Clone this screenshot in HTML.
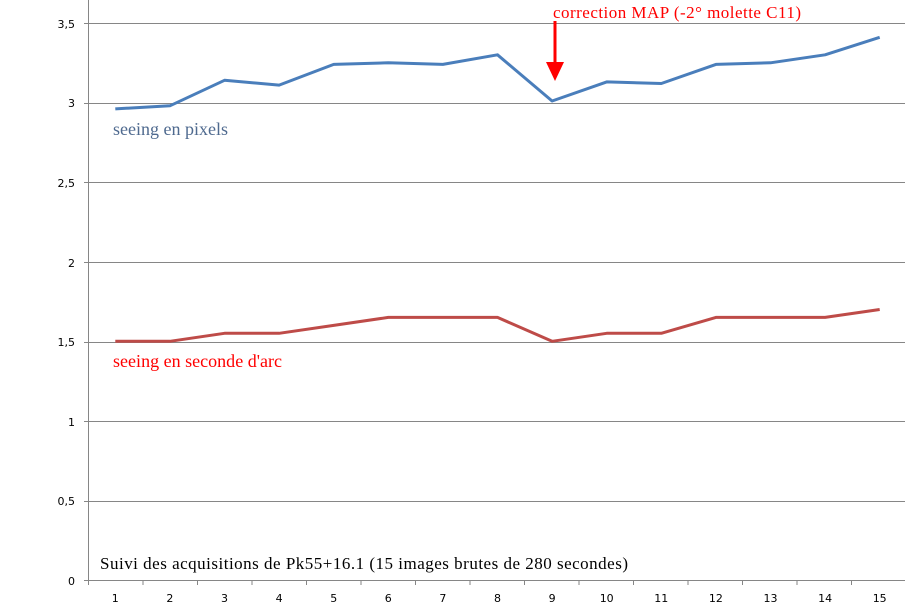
<!DOCTYPE html>
<html><head><meta charset="utf-8"><style>
html,body{margin:0;padding:0;background:#fff;}
svg{display:block;}
.yl{font-family:"DejaVu Sans","Liberation Sans",sans-serif;font-size:11px;fill:#000;}
.s{font-family:"Liberation Serif",serif;}
</style></head><body>
<svg width="905" height="614" viewBox="0 0 905 614" xmlns="http://www.w3.org/2000/svg">
<g stroke="#868686" stroke-width="1">
<line x1="84" y1="23.5" x2="905" y2="23.5"/>
<line x1="84" y1="103.5" x2="905" y2="103.5"/>
<line x1="84" y1="182.5" x2="905" y2="182.5"/>
<line x1="84" y1="262.5" x2="905" y2="262.5"/>
<line x1="84" y1="342.5" x2="905" y2="342.5"/>
<line x1="84" y1="421.5" x2="905" y2="421.5"/>
<line x1="84" y1="501.5" x2="905" y2="501.5"/>
<line x1="84" y1="580.5" x2="905" y2="580.5"/>
<line x1="88.5" y1="0" x2="88.5" y2="585"/>
<line x1="143" y1="580" x2="143" y2="585"/><line x1="197.5" y1="580" x2="197.5" y2="585"/>
<line x1="252" y1="580" x2="252" y2="585"/><line x1="306.5" y1="580" x2="306.5" y2="585"/>
<line x1="361" y1="580" x2="361" y2="585"/><line x1="415.5" y1="580" x2="415.5" y2="585"/>
<line x1="470" y1="580" x2="470" y2="585"/><line x1="524.5" y1="580" x2="524.5" y2="585"/>
<line x1="579" y1="580" x2="579" y2="585"/><line x1="633.5" y1="580" x2="633.5" y2="585"/>
<line x1="688" y1="580" x2="688" y2="585"/><line x1="742.5" y1="580" x2="742.5" y2="585"/>
<line x1="797" y1="580" x2="797" y2="585"/><line x1="851.5" y1="580" x2="851.5" y2="585"/>
</g>
<g class="yl" text-anchor="end">
<text x="75" y="28">3,5</text><text x="75" y="107">3</text><text x="75" y="187">2,5</text>
<text x="75" y="267">2</text><text x="75" y="346">1,5</text><text x="75" y="426">1</text>
<text x="75" y="505">0,5</text><text x="75" y="585">0</text>
</g>
<g class="yl" text-anchor="middle" font-size="10">
<text x="115.3" y="602">1</text><text x="169.9" y="602">2</text><text x="224.5" y="602">3</text>
<text x="279.1" y="602">4</text><text x="333.7" y="602">5</text><text x="388.3" y="602">6</text>
<text x="442.9" y="602">7</text><text x="497.5" y="602">8</text><text x="552.1" y="602">9</text>
<text x="606.7" y="602">10</text><text x="661.3" y="602">11</text><text x="715.9" y="602">12</text>
<text x="770.5" y="602">13</text><text x="825.1" y="602">14</text><text x="879.7" y="602">15</text>
</g>
<polyline fill="none" stroke="#4a7ebb" stroke-width="3" stroke-linejoin="round" points="115.3,108.9 169.9,105.8 224.5,80.3 279.1,85.1 333.7,64.4 388.3,62.8 442.9,64.4 497.5,54.8 552.1,101 606.7,81.9 661.3,83.5 715.9,64.4 770.5,62.8 825.1,54.8 879.7,37.3"/>
<polyline fill="none" stroke="#be4b48" stroke-width="3" stroke-linejoin="round" points="115.3,341.3 169.9,341.3 224.5,333.3 279.1,333.3 333.7,325.4 388.3,317.4 442.9,317.4 497.5,317.4 552.1,341.3 606.7,333.3 661.3,333.3 715.9,317.4 770.5,317.4 825.1,317.4 879.7,309.5"/>
<text class="s" x="113" y="135" font-size="18" fill="#4f6a8f" textLength="115">seeing en pixels</text>
<text class="s" x="113" y="367" font-size="18" fill="#ff0000" textLength="169">seeing en seconde d'arc</text>
<text class="s" x="553" y="18" font-size="17" fill="#ff0000" textLength="248">correction MAP (-2° molette C11)</text>
<line x1="555" y1="21" x2="555" y2="68" stroke="#ff0000" stroke-width="3"/>
<polygon points="546,62 564,62 555,81" fill="#ff0000"/>
<text class="s" x="100" y="569" font-size="17" fill="#000" textLength="528">Suivi des acquisitions de Pk55+16.1  (15 images brutes de 280 secondes)</text>
</svg>
</body></html>
